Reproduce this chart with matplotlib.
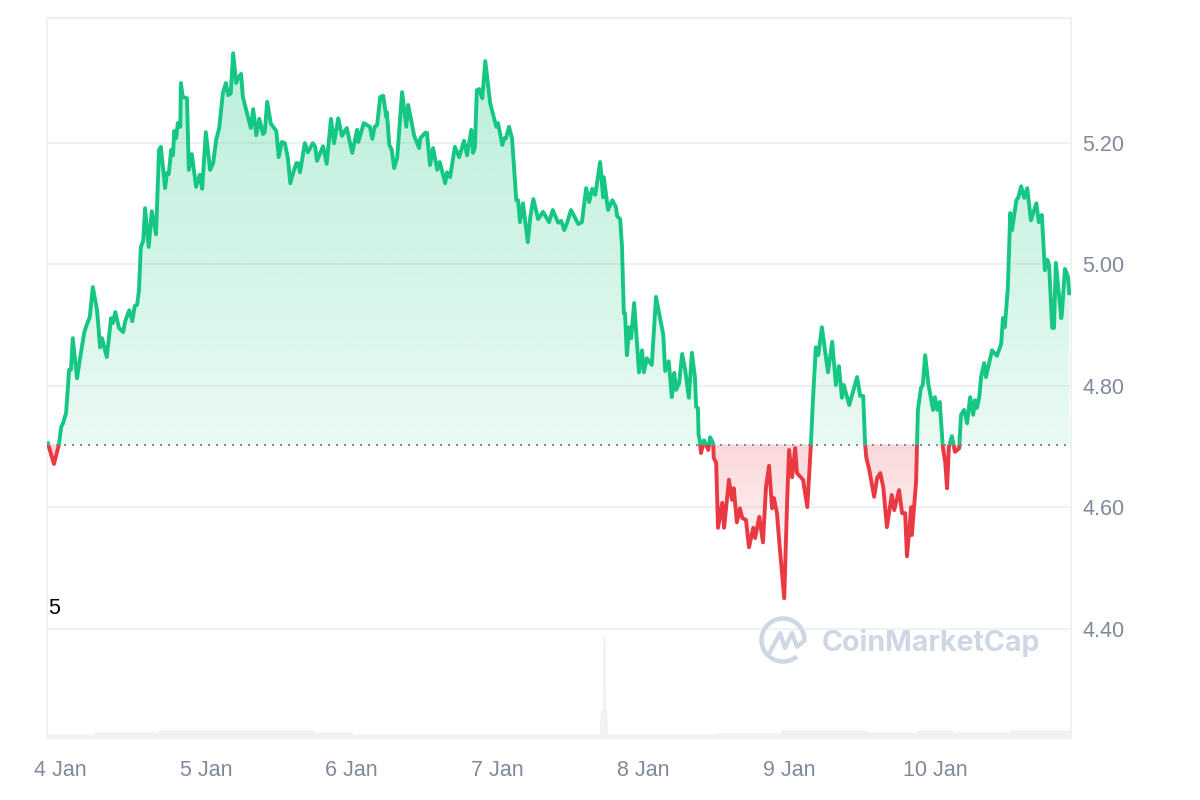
import numpy as np
import matplotlib
matplotlib.use("Agg")
import matplotlib.pyplot as plt
from matplotlib.patches import Arc, PathPatch, Rectangle
from matplotlib.path import Path

plt.rcParams['font.family'] = ['Liberation Sans', 'DejaVu Sans']

# Hours since 4 Jan tick.
hours = [
    -2.0, -1.0, -0.2, 0.2, 0.5, 1.0, 1.5, 1.8, 2.1, 2.8, 3.3, 4.0, 4.4, 4.9, 5.4, 6.1, 6.6, 6.9, 7.7, 8.4,
    8.7, 9.1, 9.7, 10.4, 10.7, 11.4, 11.9, 12.3, 12.7, 13.0, 13.3, 13.7, 14.0, 14.6, 15.1, 15.8, 16.3, 16.6, 17.3, 17.6,
    17.9, 18.3, 18.6, 18.8, 19.1, 19.4, 19.8, 19.9, 20.2, 20.9, 21.2, 21.7, 22.4, 23.0, 23.4, 24.0, 24.7, 25.2, 25.7, 26.2,
    26.8, 27.3, 27.7, 28.1, 28.5, 29.0, 29.3, 29.8, 30.1, 31.4, 31.8, 32.3, 32.8, 33.4, 33.7, 34.1, 34.7, 35.6, 36.0, 36.5,
    37.0, 37.5, 37.9, 38.4, 38.9, 39.2, 39.5, 40.3, 40.8, 41.6, 42.0, 42.3, 43.3, 43.9, 44.6, 45.1, 45.8, 46.4, 47.2, 48.1,
    48.9, 49.1, 50.0, 51.0, 51.4, 51.8, 52.2, 52.7, 53.2, 53.7, 53.8, 54.2, 54.6, 55.0, 55.5, 56.3, 57.0, 57.3, 57.8, 58.3,
    59.1, 59.3, 60.1, 60.4, 60.9, 61.4, 62.1, 62.5, 63.4, 63.7, 64.2, 65.0, 65.7, 66.5, 67.0, 67.7, 68.0, 68.3, 68.6, 69.0,
    69.5, 70.0, 70.8, 71.8, 72.1, 72.8, 73.1, 73.4, 73.9, 74.4, 75.1, 75.4, 75.7, 76.2, 77.0, 77.4, 77.9, 78.7, 79.5, 80.5,
    81.1, 82.0, 82.5, 83.0, 83.5, 84.1, 85.3, 85.9, 86.6, 87.1, 87.6, 88.1, 88.9, 89.4, 89.5, 90.2, 90.9, 91.5, 91.7, 92.2,
    92.5, 92.8, 93.0, 93.3, 93.7, 94.0, 94.5, 95.3, 95.8, 96.1, 96.6, 97.4, 98.1, 99.3, 99.6, 100.2, 100.7, 101.1, 101.4, 101.9,
    102.4, 102.9, 103.5, 104.0, 104.5, 104.7, 105.0, 105.1, 105.3, 105.5, 106.0, 106.7, 107.0, 107.5, 107.6, 108.0, 108.3, 109.0, 109.3, 110.1,
    110.6, 110.9, 111.4, 111.9, 112.3, 112.9, 113.4, 114.1, 114.4, 115.1, 115.7, 116.2, 116.7, 117.2, 117.5, 118.0, 118.5, 119.2, 119.7, 120.0,
    120.5, 121.0, 121.3, 122.3, 123.0, 123.6, 123.9, 124.4, 124.8, 125.4, 126.4, 127.1, 127.7, 128.2, 128.7, 129.0, 129.9, 131.2, 131.7, 132.2,
    132.5, 132.7, 133.2, 134.0, 134.5, 135.0, 135.5, 136.1, 136.9, 137.3, 138.1, 138.6, 139.1, 139.4, 140.1, 140.2, 140.9, 141.2, 141.7, 142.0,
    142.4, 142.9, 143.7, 144.0, 144.4, 144.8, 145.3, 145.7, 146.0, 146.3, 146.8, 147.3, 148.0, 148.3, 148.8, 149.3, 149.8, 150.3, 150.6, 150.9,
    151.3, 151.6, 152.1, 152.4, 153.4, 154.2, 154.9, 155.2, 155.5, 156.0, 156.4, 156.7, 157.4, 157.7, 158.2, 158.7, 159.2, 159.8, 160.7, 161.1,
    161.6, 162.1, 162.5, 162.8, 163.3, 163.6, 163.9, 164.8, 164.9, 165.4, 165.9, 166.1,
]
prices = [
    4.705, 4.671, 4.702, 4.732, 4.738, 4.755, 4.826, 4.826, 4.878, 4.812, 4.845, 4.888, 4.900, 4.913, 4.962, 4.924, 4.863, 4.878, 4.847, 4.911,
    4.903, 4.921, 4.895, 4.888, 4.905, 4.924, 4.906, 4.931, 4.933, 4.957, 5.028, 5.038, 5.092, 5.028, 5.087, 5.049, 5.188, 5.193, 5.125, 5.150,
    5.148, 5.188, 5.179, 5.219, 5.207, 5.232, 5.226, 5.298, 5.275, 5.273, 5.155, 5.181, 5.127, 5.147, 5.124, 5.217, 5.155, 5.166, 5.204, 5.224,
    5.281, 5.298, 5.278, 5.281, 5.347, 5.298, 5.306, 5.313, 5.275, 5.224, 5.255, 5.212, 5.239, 5.214, 5.217, 5.267, 5.231, 5.219, 5.176, 5.201,
    5.199, 5.175, 5.133, 5.151, 5.166, 5.166, 5.151, 5.199, 5.184, 5.199, 5.193, 5.170, 5.194, 5.165, 5.239, 5.199, 5.240, 5.211, 5.224, 5.183,
    5.221, 5.201, 5.232, 5.226, 5.206, 5.226, 5.229, 5.275, 5.277, 5.242, 5.250, 5.196, 5.188, 5.158, 5.175, 5.283, 5.226, 5.262, 5.237, 5.211,
    5.191, 5.207, 5.216, 5.216, 5.163, 5.191, 5.155, 5.168, 5.133, 5.151, 5.143, 5.193, 5.176, 5.203, 5.179, 5.221, 5.183, 5.193, 5.286, 5.288,
    5.273, 5.334, 5.265, 5.226, 5.232, 5.196, 5.207, 5.207, 5.226, 5.207, 5.105, 5.105, 5.069, 5.100, 5.036, 5.077, 5.107, 5.074, 5.086, 5.069,
    5.089, 5.068, 5.071, 5.056, 5.069, 5.089, 5.066, 5.069, 5.125, 5.102, 5.124, 5.114, 5.168, 5.110, 5.143, 5.089, 5.105, 5.094, 5.079, 5.074,
    5.028, 4.919, 4.919, 4.850, 4.896, 4.878, 4.936, 4.822, 4.858, 4.822, 4.845, 4.834, 4.946, 4.883, 4.824, 4.840, 4.781, 4.821, 4.793, 4.804,
    4.852, 4.826, 4.780, 4.854, 4.814, 4.765, 4.763, 4.719, 4.710, 4.689, 4.710, 4.694, 4.715, 4.705, 4.681, 4.673, 4.566, 4.607, 4.566, 4.645,
    4.612, 4.631, 4.575, 4.598, 4.582, 4.579, 4.534, 4.566, 4.549, 4.584, 4.542, 4.633, 4.668, 4.598, 4.615, 4.590, 4.529, 4.450, 4.616, 4.694,
    4.649, 4.697, 4.656, 4.645, 4.600, 4.705, 4.771, 4.863, 4.850, 4.896, 4.822, 4.872, 4.801, 4.832, 4.780, 4.801, 4.768, 4.814, 4.783, 4.783,
    4.705, 4.682, 4.661, 4.617, 4.648, 4.656, 4.633, 4.567, 4.620, 4.595, 4.628, 4.590, 4.590, 4.519, 4.600, 4.554, 4.641, 4.760, 4.796, 4.801,
    4.850, 4.804, 4.760, 4.781, 4.760, 4.773, 4.699, 4.674, 4.631, 4.699, 4.717, 4.691, 4.697, 4.752, 4.760, 4.738, 4.781, 4.752, 4.776, 4.763,
    4.781, 4.814, 4.837, 4.814, 4.858, 4.849, 4.868, 4.911, 4.896, 4.960, 5.084, 5.056, 5.105, 5.109, 5.128, 5.109, 5.125, 5.072, 5.100, 5.069,
    5.081, 4.990, 5.007, 4.998, 4.895, 4.895, 5.002, 4.911, 4.919, 4.992, 4.979, 4.952,
]
base_price = 4.703

# Volume bars along the bottom, relative heights.
vol_hours = [-2.1, 5.5, 5.6, 16.1, 16.2, 41.7, 41.8, 48.1, 48.2, 88.7, 88.9, 89.3, 89.35, 89.75, 89.8, 90.0, 90.1, 108.0, 108.1,
             118.5, 118.6, 120.8, 120.9, 132.8, 132.9, 141.0, 141.1, 146.9, 147.0, 156.4, 156.5, 166.4]
vol_values = [4, 4, 6, 6, 8, 8, 6, 6, 4, 4, 28, 28, 102, 102, 28, 28, 4, 4, 5,
              5, 8, 8, 8, 8, 6, 6, 8, 8, 6, 6, 8, 8]

y_ticks = [4.40, 4.60, 4.80, 5.00, 5.20]
x_ticks = [0, 24, 48, 72, 96, 120, 144]
x_labels = ['4 Jan', '5 Jan', '6 Jan', '7 Jan', '8 Jan', '9 Jan', '10 Jan']

GREEN = '#16C784'
RED = '#EA3943'
LIGHT = '#EFF2F5'
TEXT = '#808A9D'
LOGO = '#CFD6E4'

hours = np.array(hours)
prices = np.array(prices)
x_min, x_max = -2.14, 166.4
y_min, y_max = 4.22, 5.405

fig = plt.figure(figsize=(12, 8), dpi=100)
ax = fig.add_axes([47 / 1200, 1 - 738 / 800, (1071 - 47) / 1200, (738 - 18) / 800])

for side in ['left', 'right', 'top', 'bottom']:
    ax.spines[side].set_color(LIGHT)
    ax.spines[side].set_linewidth(1.5)

ax.set_yticks(y_ticks)
ax.set_yticklabels([f'{v:.2f}' for v in y_ticks])
ax.set_xticks(x_ticks)
ax.set_xticklabels(x_labels)
ax.grid(True, axis='y', color=LIGHT, linewidth=1.5, zorder=0)
ax.set_axisbelow(True)

# Gradient fills, clipped to the area between the price line and the start price.
def gradient_fill(y_low, y_high, color, alpha_low, alpha_high, edge):
    rgba = np.zeros((256, 1, 4))
    rgba[:, 0, :3] = matplotlib.colors.to_rgb(color)
    rgba[:, 0, 3] = np.linspace(alpha_low, alpha_high, 256)
    img = ax.imshow(rgba, origin='lower', aspect='auto', zorder=1,
                    extent=[x_min, x_max, y_low, y_high], interpolation='bilinear')
    verts = np.vstack([[hours[0], base_price], np.column_stack([hours, edge]), [hours[-1], base_price]])
    img.set_clip_path(Path(verts), transform=ax.transData)

gradient_fill(base_price, 5.35, GREEN, 0.09, 0.30, np.maximum(prices, base_price))
gradient_fill(4.45, base_price, RED, 0.0, 0.20, np.minimum(prices, base_price))

# Same line twice, clipped above and below the start price.
up_line, = ax.plot(hours, prices, color=GREEN, linewidth=2.8, solid_joinstyle='round', zorder=3)
down_line, = ax.plot(hours, prices, color=RED, linewidth=2.8, solid_joinstyle='round', zorder=3)
up_line.set_clip_path(Rectangle((x_min, base_price), x_max - x_min, y_max - base_price, transform=ax.transData))
down_line.set_clip_path(Rectangle((x_min, y_min), x_max - x_min, base_price - y_min, transform=ax.transData))

ax.plot([hours[0], hours[-1]], [base_price, base_price], color=TEXT, linewidth=1.44,
        linestyle=(0, (1, 3)), zorder=4)

ax.set_xlim(x_min, x_max)
ax.set_ylim(y_min, y_max)

# Volume on its own scale, sharing the time axis.
vol_ax = ax.twinx()
vol_ax.set_ylim(0, 720)
vol_ax.axis('off')
vol_ax.fill_between(vol_hours, vol_values, 0, color=LIGHT, linewidth=0)

# twinx puts the price ticks back on the left, so set them after it.
ax.yaxis.tick_right()
ax.tick_params(axis='y', length=0, pad=8, labelsize=15.5, labelcolor=TEXT)
ax.tick_params(axis='x', length=0, pad=15.5, labelsize=15.5, labelcolor=TEXT)

# Overlay in pixel coordinates for the stray label and the watermark.
over = fig.add_axes([0, 0, 1, 1])
over.set_xlim(0, 1200)
over.set_ylim(800, 0)
over.axis('off')
over.patch.set_alpha(0)

over.text(48, 608, '5', color='black', fontsize=15.5, ha='left', va='center')
over.text(822, 643, 'CoinMarketCap', color=LOGO, fontsize=20.6, fontweight='bold',
          family=['Inter', 'DejaVu Sans'], ha='left', va='center')
over.add_patch(Arc((783, 640), 43, 43, theta1=50, theta2=5, color=LOGO, linewidth=3.2))
mark = [(769, 654), (780, 633), (785, 648), (792, 633), (797, 647), (805, 640)]
over.add_patch(PathPatch(Path(mark), fill=False, edgecolor=LOGO, linewidth=3.0, joinstyle='round'))

fig.savefig('out.png', dpi=100)
